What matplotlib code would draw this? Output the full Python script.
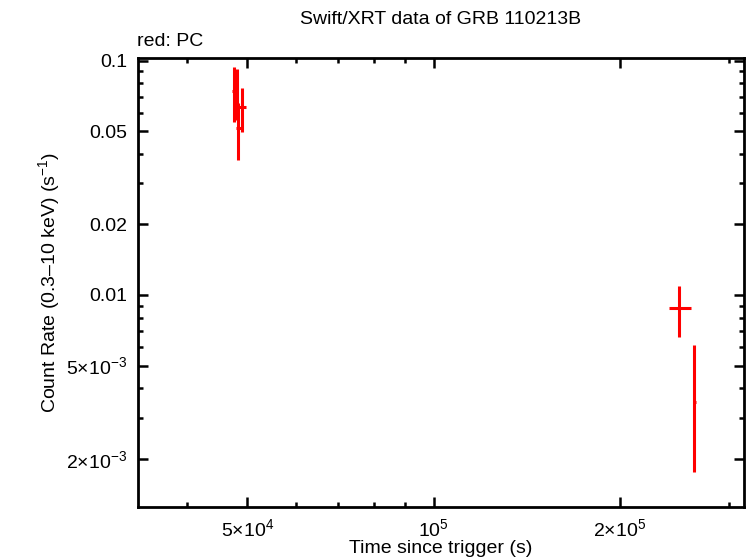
import numpy as np
import matplotlib
matplotlib.use('Agg')
import matplotlib.pyplot as plt
from matplotlib.ticker import FixedLocator, LogLocator, NullFormatter

plt.rcParams['font.family'] = ['Liberation Sans', 'DejaVu Sans']
plt.rcParams['mathtext.fontset'] = 'custom'
plt.rcParams['mathtext.rm'] = 'Liberation Sans'
plt.rcParams['mathtext.it'] = 'Liberation Sans'

# PC mode data (time since trigger in s, count rate in 1/s)
time = [47600, 48100, 48400, 49100, 249500, 263800]
time_lo = [47250, 47800, 48000, 48450, 240500, 262300]
time_hi = [47950, 48400, 48800, 49750, 260300, 265300]
rate = [0.0740, 0.0700, 0.0514, 0.0632, 0.00878, 0.00349]
rate_lo = [0.0545, 0.0560, 0.0377, 0.0497, 0.00664, 0.00175]
rate_hi = [0.0940, 0.0920, 0.0659, 0.0764, 0.01096, 0.00610]

xticks = [5e4, 1e5, 2e5]
xticklabels = [r'$5{\times}10^{4}$', r'$10^{5}$', r'$2{\times}10^{5}$']
yticks = [0.1, 0.05, 0.02, 0.01, 0.005, 0.002]
yticklabels = ['0.1', '0.05', '0.02', '0.01', r'$5{\times}10^{-3}$', r'$2{\times}10^{-3}$']

t = np.array(time)
r = np.array(rate)
xerr = [t - np.array(time_lo), np.array(time_hi) - t]
yerr = [r - np.array(rate_lo), np.array(rate_hi) - r]

fig = plt.figure(figsize=(7.46, 5.58), dpi=100)
ax = fig.add_axes([138/746, 51/558, 606/746, 449/558])

ax.errorbar(t, r, xerr=xerr, yerr=yerr, fmt='none', ecolor='#ff0000',
            elinewidth=2.2, capsize=0)

ax.set_xscale('log')
ax.set_yscale('log')
ax.set_xlim(33300, 317500)
ax.set_ylim(0.001247, 0.1025)

ax.xaxis.set_major_locator(FixedLocator(xticks))
ax.set_xticklabels(xticklabels)
ax.xaxis.set_minor_locator(LogLocator(base=10, subs=np.arange(2, 10)))
ax.xaxis.set_minor_formatter(NullFormatter())
ax.yaxis.set_major_locator(FixedLocator(yticks))
ax.set_yticklabels(yticklabels)
ax.yaxis.set_minor_locator(LogLocator(base=10, subs=np.arange(2, 10)))
ax.yaxis.set_minor_formatter(NullFormatter())

ax.tick_params(which='both', direction='in', top=True, right=True, width=1.8, labelsize=14)
ax.tick_params(which='major', length=7, pad=8)
ax.tick_params(which='minor', length=3.5)
for s in ax.spines.values():
    s.set_linewidth(2)

ax.set_xlabel('Time since trigger (s)', fontsize=14, labelpad=0)
ax.set_ylabel('Count Rate (0.3\u201310 keV) (s$^{-1}$)', fontsize=14, labelpad=3)
fig.text(441/746, 1 - 19/558, 'Swift/XRT data of GRB 110213B', ha='center', va='center', fontsize=14)
fig.text(137/746, 1 - 41/558, 'red: PC', ha='left', va='center', fontsize=14)

fig.savefig('out.png', dpi=100)
